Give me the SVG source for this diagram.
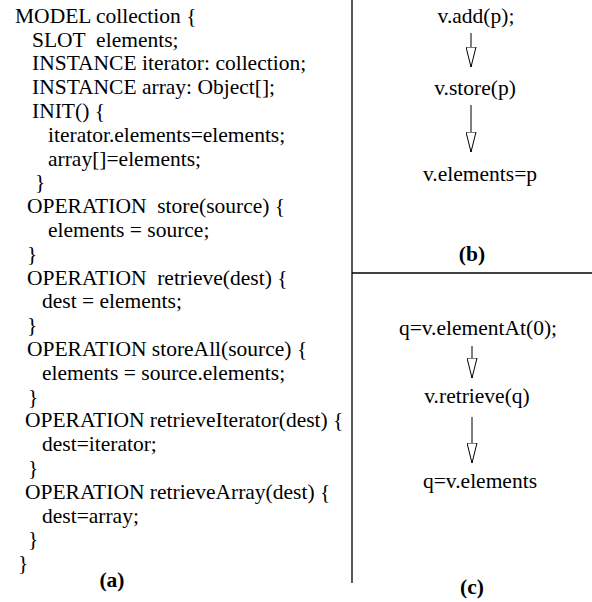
<svg xmlns="http://www.w3.org/2000/svg" width="592" height="602" viewBox="0 0 592 602">
<style>
.t{font-family:"Liberation Serif","Times New Roman",serif;font-size:21.5px;fill:#000;white-space:pre}
.m{text-anchor:middle}
.b{font-weight:bold}
.ln{stroke:#000;stroke-width:1.3;fill:none}
.c{stroke:#000;stroke-width:1;fill:none}
</style>
<defs>
<marker id="tri" viewBox="0 0 21 11" refX="20.5" refY="5.5" markerWidth="21" markerHeight="11" markerUnits="userSpaceOnUse" orient="auto">
<path d="M0.5,0.5 L20.5,5.5 L0.5,10.5 Z" fill="#fff" stroke="#000" stroke-width="1"/>
</marker>
</defs>
<rect width="592" height="602" fill="#fff"/>
<g id="dividers">
<line class="ln" x1="352" y1="0" x2="352" y2="583"/>
<line class="ln" x1="352" y1="273" x2="592" y2="273"/>
</g>
<g id="model-code">
<text class="t" xml:space="preserve" x="15" y="22.7">MODEL collection {</text>
<text class="t" xml:space="preserve" x="32" y="46.5">SLOT  elements;</text>
<text class="t" xml:space="preserve" x="32" y="70.3">INSTANCE iterator: collection;</text>
<text class="t" xml:space="preserve" x="32" y="94.1">INSTANCE array: Object[];</text>
<text class="t" xml:space="preserve" x="32" y="117.9">INIT() {</text>
<text class="t" xml:space="preserve" x="48" y="141.7">iterator.elements=elements;</text>
<text class="t" xml:space="preserve" x="48" y="165.5">array[]=elements;</text>
<text class="t" xml:space="preserve" x="35" y="189.3">}</text>
<text class="t" xml:space="preserve" x="27" y="213.1">OPERATION  store(source) {</text>
<text class="t" xml:space="preserve" x="48" y="236.9">elements = source;</text>
<text class="t" xml:space="preserve" x="27" y="260.7">}</text>
<text class="t" xml:space="preserve" x="27" y="284.5">OPERATION  retrieve(dest) {</text>
<text class="t" xml:space="preserve" x="42" y="308.3">dest = elements;</text>
<text class="t" xml:space="preserve" x="27" y="332.1">}</text>
<text class="t" xml:space="preserve" x="27" y="355.9">OPERATION storeAll(source) {</text>
<text class="t" xml:space="preserve" x="42" y="379.7">elements = source.elements;</text>
<text class="t" xml:space="preserve" x="28" y="403.5">}</text>
<text class="t" xml:space="preserve" x="25" y="427.3">OPERATION retrieveIterator(dest) {</text>
<text class="t" xml:space="preserve" x="42" y="451.1">dest=iterator;</text>
<text class="t" xml:space="preserve" x="28" y="474.9">}</text>
<text class="t" xml:space="preserve" x="25" y="498.7">OPERATION retrieveArray(dest) {</text>
<text class="t" xml:space="preserve" x="42" y="522.5">dest=array;</text>
<text class="t" xml:space="preserve" x="28" y="546.3">}</text>
<text class="t" xml:space="preserve" x="18" y="570.1">}</text>
<text class="t m b" x="112" y="587">(a)</text>
</g>
<g id="b-add"><text class="t m" x="476" y="23">v.add(p);</text></g>
<g id="b-store"><text class="t m" x="475" y="95">v.store(p)</text></g>
<g id="b-elements"><text class="t m" x="480" y="181">v.elements=p</text></g>
<g id="b-label"><text class="t m b" x="472" y="261">(b)</text></g>
<g id="c-elementAt"><text class="t m" x="478" y="335">q=v.elementAt(0);</text></g>
<g id="c-retrieve"><text class="t m" x="477" y="403">v.retrieve(q)</text></g>
<g id="c-elements"><text class="t m" x="480" y="488">q=v.elements</text></g>
<g id="c-label"><text class="t m b" x="472" y="594">(c)</text></g>
<g id="connectors">
<line class="c" x1="471" y1="33" x2="471" y2="67" marker-end="url(#tri)"/>
<line class="c" x1="471" y1="105" x2="471" y2="152" marker-end="url(#tri)"/>
<line class="c" x1="472" y1="346" x2="472" y2="378" marker-end="url(#tri)"/>
<line class="c" x1="472" y1="417" x2="472" y2="463" marker-end="url(#tri)"/>
</g>
</svg>
